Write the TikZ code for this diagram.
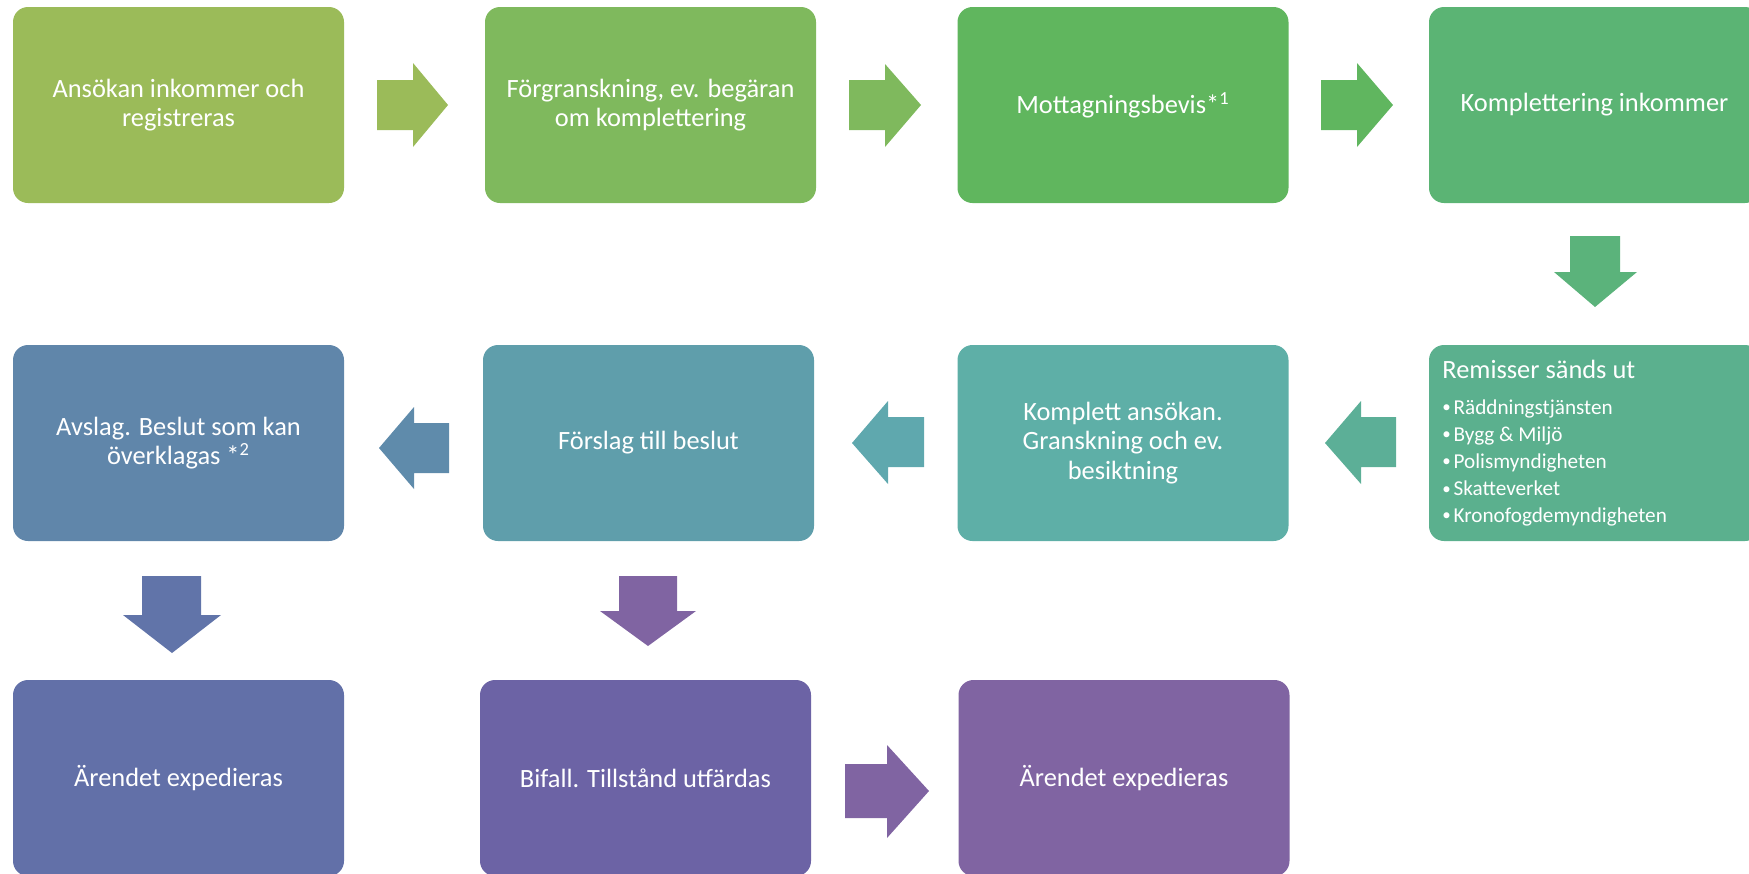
\documentclass[tikz,border=0pt]{standalone}
\usepackage{fontspec}
\usepackage{graphicx}
\setmainfont{Carlito}
\definecolor{cA}{HTML}{9BBB59}
\definecolor{cB}{HTML}{7FB95D}
\definecolor{cC}{HTML}{60B65E}
\definecolor{cD}{HTML}{5BB474}
\definecolor{cE}{HTML}{5BB08E}
\definecolor{cF}{HTML}{5EAFA7}
\definecolor{cG}{HTML}{5F9EAB}
\definecolor{cH}{HTML}{6086AA}
\definecolor{cI}{HTML}{6270A8}
\definecolor{cJ}{HTML}{6C63A5}
\definecolor{cK}{HTML}{8064A2}
\definecolor{aA}{HTML}{9BBB59}
\definecolor{aB}{HTML}{7FB95D}
\definecolor{aC}{HTML}{60B65F}
\definecolor{aD}{HTML}{5BB37B}
\definecolor{aE}{HTML}{5CAF97}
\definecolor{aF}{HTML}{5FA8AE}
\definecolor{aG}{HTML}{5F8BAB}
\definecolor{aH}{HTML}{6174A9}
\definecolor{aI}{HTML}{8064A2}
\newcommand{\rbul}{\makebox[5.6pt][l]{\raisebox{0.7pt}{\scalebox{0.8}{•}}}}
\begin{document}
\begin{tikzpicture}[x=0.5pt,y=-0.5pt,
  box/.style={rounded corners=7.5pt, minimum width=165.5pt, minimum height=98pt,
    inner sep=0pt, text=white, align=center, font=\fontsize{13.2}{14.7}\selectfont},
  remhead/.style={anchor=base west, inner sep=0pt, text=white, font=\fontsize{13.2}{14.7}\selectfont},
  remitem/.style={anchor=base west, inner sep=0pt, text=white, font=\fontsize{10.6}{13}\selectfont}]
\useasboundingbox (0,0) rectangle (1749,873);
\clip (0,0) rectangle (1749,873);
% row 1
\node[box, fill=cA] (b1) at (178.5,105) {Ansökan inkommer och\\registreras};
\node[box, fill=cB] (b2) at (650.5,105) {Förgranskning, ev. begäran\\om komplettering};
\node[box, fill=cC] (b3) at (1123,105) {Mottagningsbevis*\textsuperscript{1}};
\node[box, fill=cD] (b4) at (1594.5,105) {Komplettering inkommer};
% row 2
\node[box, fill=cE] (b5) at (1594.5,443) {};
\node[box, fill=cF] (b6) at (1123,443) {Komplett ansökan.\\Granskning och ev.\\besiktning};
\node[box, fill=cG] (b7) at (648.5,443) {Förslag till beslut};
\node[box, fill=cH] (b8) at (178.5,443) {Avslag. Beslut som kan\\överklagas *\textsuperscript{2}};
% row 3
\node[box, fill=cI] (b9) at (178.5,778) {Ärendet expedieras};
\node[box, fill=cJ] (b10) at (645.5,778) {Bifall. Tillstånd utfärdas};
\node[box, fill=cK] (b11) at (1124,778) {Ärendet expedieras};
% Remisser text
\node[remhead] (r0) at (1442,378) {Remisser sänds ut};
\node[remitem] (r1) at (1442,414) {\rbul Räddningstjänsten};
\node[remitem] (r2) at (1442,441) {\rbul Bygg \& Miljö};
\node[remitem] (r3) at (1442,468) {\rbul Polismyndigheten};
\node[remitem] (r4) at (1442,495.5) {\rbul Skatteverket};
\node[remitem] (r5) at (1442,522) {\rbul Kronofogdemyndigheten};
% block arrows
\fill[aA] (377,80) -- (413,80) -- (413,63) -- (448,105) -- (413,147) -- (413,130) -- (377,130) -- cycle;
\fill[aB] (849,80) -- (885,80) -- (885,64) -- (921,105) -- (885,147) -- (885,130) -- (849,130) -- cycle;
\fill[aC] (1321,80) -- (1357,80) -- (1357,63) -- (1393,105) -- (1357,147) -- (1357,130) -- (1321,130) -- cycle;
\fill[aD] (1570,236) -- (1620,236) -- (1620,272) -- (1637,272) -- (1595,307) -- (1554,272) -- (1570,272) -- cycle;
\fill[aE] (1396,417) -- (1361,417) -- (1361,401) -- (1325,443) -- (1361,484) -- (1361,467) -- (1396,467) -- cycle;
\fill[aF] (924,417) -- (888,417) -- (888,401) -- (852,443) -- (888,484) -- (888,467) -- (924,467) -- cycle;
\fill[aG] (449,423) -- (414,423) -- (414,407) -- (379,448) -- (414,489) -- (414,473) -- (449,473) -- cycle;
\fill[aH] (142,576) -- (201,576) -- (201,615) -- (221,615) -- (172,653) -- (123,615) -- (142,615) -- cycle;
\fill[aI] (619,576) -- (677,576) -- (677,611) -- (696,611) -- (648,646) -- (600,611) -- (619,611) -- cycle;
\fill[aI] (845,764) -- (887,764) -- (887,745) -- (929,791) -- (887,838) -- (887,818) -- (845,818) -- cycle;
\end{tikzpicture}
\end{document}
